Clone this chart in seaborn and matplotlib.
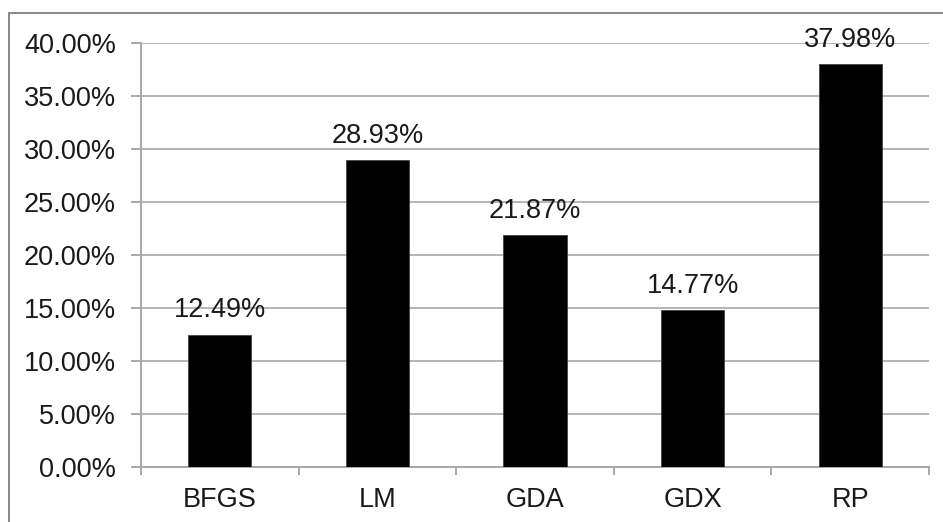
import matplotlib
matplotlib.use("Agg")
import matplotlib.pyplot as plt
import seaborn as sns
import pandas as pd
from matplotlib.lines import Line2D
from matplotlib.ticker import FuncFormatter, MultipleLocator

# Share of cases per training algorithm (percent)
methods = ["BFGS", "LM", "GDA", "GDX", "RP"]
shares = [12.49, 28.93, 21.87, 14.77, 37.98]

sns.set_theme(style="white")
plt.rcParams["font.family"] = ["Liberation Sans", "DejaVu Sans"]

W, H = 943, 522
fig = plt.figure(figsize=(W / 100, H / 100), dpi=100)
ax = fig.add_axes([141 / W, 1 - 467 / H, (929 - 141) / W, (467 - 43) / H])

df = pd.DataFrame({"method": methods, "share": shares})
sns.barplot(data=df, x="method", y="share", color="black", width=0.4,
            saturation=1, ax=ax, edgecolor="#444444", linewidth=0.6, zorder=3)

ax.set_ylim(0, 40)
ax.set_xlim(-0.5, len(methods) - 0.5)
ax.yaxis.set_major_locator(MultipleLocator(5))
ax.yaxis.set_major_formatter(FuncFormatter(lambda v, _: f"{v:.2f}%"))
ax.grid(axis="y", color="#b4b4b4", linewidth=1.4, zorder=0)
ax.set_axisbelow(True)
ax.set_xlabel("")
ax.set_ylabel("")

for side in ("top", "right"):
    ax.spines[side].set_visible(False)
for side in ("left", "bottom"):
    ax.spines[side].set_color("#a8a8a8")
    ax.spines[side].set_linewidth(1.4)

fs = 19.5
ax.tick_params(axis="y", left=True, length=7, width=1.4, color="#a8a8a8",
               labelsize=fs, labelcolor="#1a1a1a", pad=11)
ax.tick_params(axis="x", bottom=False, labelsize=fs, labelcolor="#1a1a1a", pad=8.5)

# category boundary ticks below the x axis
ax.set_xticks([i - 0.5 for i in range(len(methods) + 1)], minor=True)
ax.tick_params(axis="x", which="minor", bottom=True, length=5.5, width=1.4,
               color="#a8a8a8", direction="out")

for container in ax.containers:
    ax.bar_label(container, labels=[f"{v:.2f}%" for v in shares],
                 fontsize=fs, color="#1a1a1a", padding=8)

# outer chart frame
fig.add_artist(Line2D([9 / W, 1.0], [1 - 13 / H] * 2, color="#888888", lw=1.4,
                      transform=fig.transFigure))
fig.add_artist(Line2D([9 / W] * 2, [0.0, 1 - 13 / H], color="#888888", lw=1.4,
                      transform=fig.transFigure))

fig.savefig("out.png", dpi=100)
